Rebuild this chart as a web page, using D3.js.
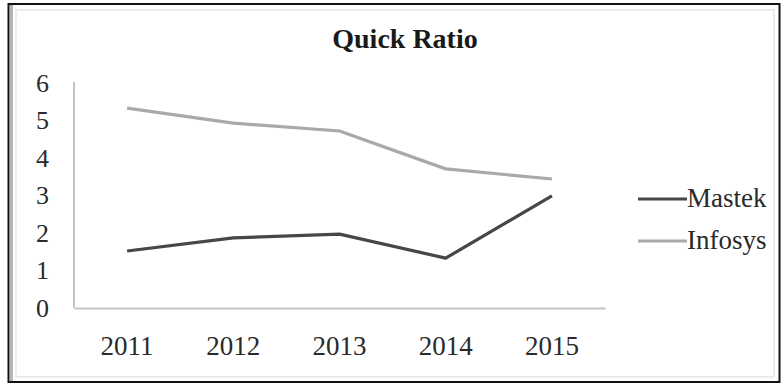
<!DOCTYPE html>
<html>
<head>
<meta charset="utf-8">
<script src="https://cdn.jsdelivr.net/npm/d3@7"></script>
<style>
  body { margin: 0; background: #fff; }
  svg { display: block; font-family: "Liberation Serif", "DejaVu Serif", serif; }
</style>
</head>
<body>
<script>
const years = ["2011", "2012", "2013", "2014", "2015"];
const mastek = [1.52, 1.87, 1.97, 1.33, 2.99];
const infosys = [5.33, 4.93, 4.72, 3.71, 3.44];
const yTicks = [0, 1, 2, 3, 4, 5, 6];

const series = [
    { name: "Mastek", values: mastek, color: "#474747" },
    { name: "Infosys", values: infosys, color: "#a9a9a9" }
];

var width = 782, height = 383;

var svg = d3.select("body").append("svg")
    .attr("width", width)
    .attr("height", height);

// frame
svg.append("rect")
    .attr("x", 16).attr("y", 10)
    .attr("width", 758).attr("height", 367)
    .style("fill", "none")
    .style("stroke", "#ececec")
    .style("stroke-width", 2);
svg.append("line")
    .attr("x1", 11.5).attr("x2", 11.5)
    .attr("y1", 5).attr("y2", 382)
    .style("stroke", "#b5b5b5")
    .style("stroke-width", 3);
svg.append("rect")
    .attr("x", 8.5).attr("y", 4)
    .attr("width", 771).attr("height", 378)
    .style("fill", "none")
    .style("stroke", "#111")
    .style("stroke-width", 2);

svg.append("text")
    .attr("x", 405)
    .attr("y", 48)
    .attr("text-anchor", "middle")
    .style("font-size", "28px")
    .style("font-weight", "bold")
    .style("fill", "#1a1a1a")
    .text("Quick Ratio");

var x = d3.scaleBand()
    .domain(years)
    .range([74, 605]);

var y = d3.scaleLinear()
    .domain([0, 6])
    .range([308, 83]);

// axes
var xAxis = svg.append("g")
    .attr("transform", "translate(0,308)")
    .call(d3.axisBottom(x).tickSize(0).tickSizeOuter(0));
xAxis.select(".domain")
    .style("stroke", "#c4c4c4")
    .style("stroke-width", 2);
xAxis.selectAll("text")
    .attr("y", 47)
    .attr("dy", 0)
    .style("font-family", "Liberation Serif, serif")
    .style("font-size", "27px")
    .style("fill", "#2a2a2a");

var yAxis = svg.append("g")
    .attr("transform", "translate(74,0)")
    .call(d3.axisLeft(y).tickValues(yTicks).tickFormat(d3.format("d")).tickSize(0).tickSizeOuter(0));
yAxis.select(".domain")
    .attr("d", "M0," + (y(6) - 1) + "V" + y(0))
    .style("stroke", "#c4c4c4")
    .style("stroke-width", 2);
yAxis.selectAll("text")
    .attr("x", -25)
    .attr("dy", 8)
    .style("font-family", "Liberation Serif, serif")
    .style("font-size", "26px")
    .style("fill", "#2a2a2a");

// lines
var line = d3.line()
    .x((d, i) => x(years[i]) + x.bandwidth() / 2)
    .y(d => y(d));

svg.selectAll(".series")
    .data(series)
    .enter().append("path")
    .attr("class", "series")
    .attr("d", d => line(d.values))
    .style("fill", "none")
    .style("stroke", d => d.color)
    .style("stroke-width", 3.2)
    .style("stroke-linejoin", "round");

// legend
var legend = svg.selectAll(".legend")
    .data(series)
    .enter().append("g")
    .attr("class", "legend")
    .attr("transform", (d, i) => "translate(638," + (199 + i * 42) + ")");

legend.append("line")
    .attr("x1", 0).attr("x2", 49)
    .style("stroke", d => d.color)
    .style("stroke-width", 3.2);

legend.append("text")
    .attr("x", 49)
    .attr("y", 8)
    .style("font-size", "27px")
    .style("fill", "#2a2a2a")
    .text(d => d.name);
</script>
</body>
</html>
